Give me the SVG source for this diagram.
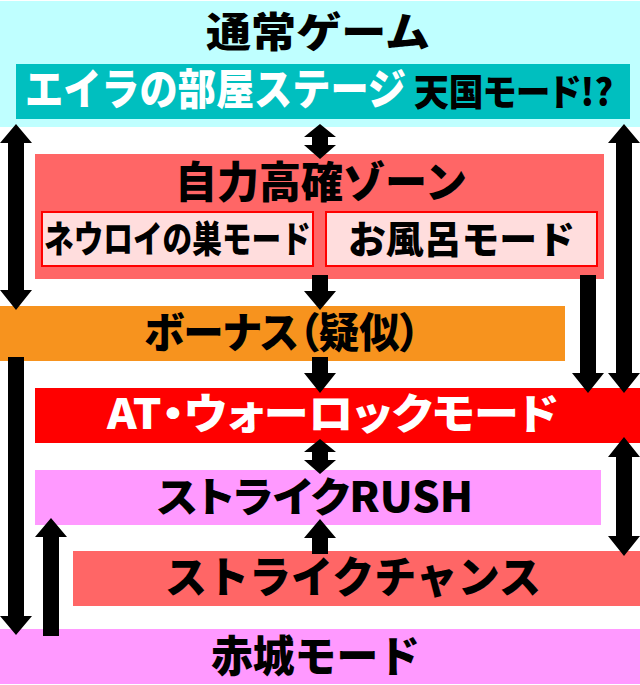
<svg xmlns="http://www.w3.org/2000/svg" width="640" height="685" viewBox="0 0 640 685">
<style>
text{font-family:"Noto Sans CJK JP","Noto Sans",sans-serif;font-weight:900;text-anchor:start;fill:#000}
.w{fill:#fff}
.a{fill:#000}
.p{font-feature-settings:"palt"}
</style>
<rect width="640" height="685" fill="#fff"/>
<g id="normal"><rect x="0" y="1" width="640" height="126" fill="#BFFFFF"/>
<text x="206" y="47" font-size="41" textLength="224" lengthAdjust="spacingAndGlyphs">通常ゲーム</text></g>
<g id="eira"><rect x="16" y="64" width="614" height="55" fill="#00BFBF"/>
<text class="w" transform="translate(25 105) scale(0.888 1)" font-size="43">エイラの部屋ステージ</text>
<text class="p" x="414" y="106" font-size="37" textLength="199" lengthAdjust="spacingAndGlyphs">天国モード!?</text></g>
<g id="zone"><rect x="35" y="154" width="569" height="125" fill="#FF6666"/>
<text x="175" y="198" font-size="43" textLength="292" lengthAdjust="spacingAndGlyphs">自力高確ゾーン</text></g>
<g id="neuroi"><rect x="42" y="212" width="271" height="54" fill="#FFDDDD" stroke="#f00" stroke-width="2"/>
<text transform="translate(44 253) scale(0.802 1)" font-size="37">ネウロイの巣モード</text></g>
<g id="bath"><rect x="326" y="212" width="271" height="54" fill="#FFDDDD" stroke="#f00" stroke-width="2"/>
<text x="348" y="253" font-size="38" textLength="227" lengthAdjust="spacingAndGlyphs">お風呂モード</text></g>
<g id="bonus"><rect x="0" y="306" width="565" height="55" fill="#F7931E"/>
<text class="p" x="144" y="348" font-size="42" textLength="276" lengthAdjust="spacingAndGlyphs">ボーナス（疑似）</text></g>
<g id="at"><rect x="35" y="388" width="605" height="55" fill="#FF0000"/>
<text class="w p" x="107" y="429" font-size="42" textLength="451" lengthAdjust="spacingAndGlyphs">AT・ウォーロックモード</text></g>
<g id="rush"><rect x="35" y="470" width="566" height="55" fill="#FF99FF"/>
<text class="p" x="157" y="512" font-size="41" textLength="316" lengthAdjust="spacingAndGlyphs">ストライクRUSH</text></g>
<g id="chance"><rect x="73" y="551" width="567" height="55" fill="#FF6666"/>
<text x="165" y="593" font-size="43" textLength="376" lengthAdjust="spacingAndGlyphs">ストライクチャンス</text></g>
<g id="akagi"><rect x="0" y="629" width="640" height="55" fill="#FF99FF"/>
<text x="211" y="672" font-size="43" textLength="209" lengthAdjust="spacingAndGlyphs">赤城モード</text></g>
<g id="connectors" class="a">
<path d="M16 124L32 143H24V290H32L16 310L0 290H8V143H0Z"/>
<path d="M320 124L336 137H328V145H336L320 159L304 145H312V137H304Z"/>
<path d="M312 275H328V291H336L320 310L304 291H312Z"/>
<path d="M312 357H328V373H336L320 393L304 373H312Z"/>
<path d="M8 357H24V616H32L16 635L0 616H8Z"/>
<path d="M51 518L67 537H59V636H43V537H35Z"/>
<path d="M580 275H596V373H604L588 393L572 373H580Z"/>
<path d="M624 124L640 143H632V373H640L624 393L608 373H616V143H608Z"/>
<path d="M320 439L336 452H328V460H336L320 474L304 460H312V452H304Z"/>
<path d="M624 437L640 457H632V536H640L624 556L608 536H616V457H608Z"/>
<path d="M320 519L336 538H328V554H312V538H304Z"/>
</g>
</svg>
